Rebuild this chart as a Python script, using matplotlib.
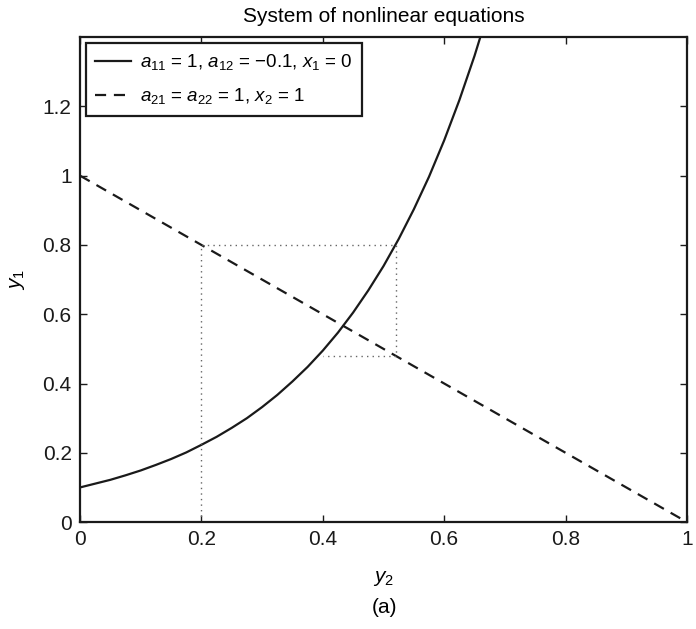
import matplotlib
matplotlib.use("Agg")
import matplotlib.pyplot as plt

plt.rcParams['font.family'] = ['Liberation Sans', 'DejaVu Sans']
plt.rcParams['mathtext.fontset'] = 'custom'
plt.rcParams['mathtext.rm'] = 'Liberation Sans'
plt.rcParams['mathtext.it'] = 'Liberation Sans:italic'

# first equation: y1 as a function of y2
curve_y2 = [0.0, 0.025, 0.05, 0.075, 0.10, 0.125, 0.15, 0.175, 0.20, 0.225,
            0.25, 0.275, 0.30, 0.325, 0.35, 0.375, 0.40, 0.425, 0.45, 0.475,
            0.50, 0.525, 0.55, 0.575, 0.60, 0.625, 0.65, 0.675, 0.70]
curve_y1 = [0.100, 0.111, 0.122, 0.135, 0.149, 0.165, 0.182, 0.201, 0.223,
            0.246, 0.272, 0.300, 0.332, 0.367, 0.406, 0.448, 0.495, 0.547,
            0.605, 0.669, 0.739, 0.817, 0.903, 0.997, 1.102, 1.218, 1.346,
            1.488, 1.644]

# second equation: straight line
line_y2 = [0.0, 1.0]
line_y1 = [1.0, 0.0]

# iteration path
iter_y2 = [0.2, 0.2, 0.52, 0.52, 0.40]
iter_y1 = [0.0, 0.8, 0.80, 0.48, 0.48]

fig = plt.figure(figsize=(6.96, 6.29), dpi=100)
ax = fig.add_axes([0.115, 0.170, 0.872, 0.771])

ax.plot(curve_y2, curve_y1, color='#1a1a1a', lw=1.6,
        label='$a_{11}$ = 1, $a_{12}$ = −0.1, $x_1$ = 0')
ax.plot(line_y2, line_y1, color='#1a1a1a', lw=1.6, ls=(0, (5, 3.5)),
        label='$a_{21}$ = $a_{22}$ = 1, $x_2$ = 1')
ax.plot(iter_y2, iter_y1, color='#666666', lw=1.0, ls=(0, (1, 3)))

ax.set_xlim(0, 1)
ax.set_ylim(0, 1.4)
ax.set_xticks([0, 0.2, 0.4, 0.6, 0.8, 1])
ax.set_xticklabels(['0', '0.2', '0.4', '0.6', '0.8', '1'])
ax.set_yticks([0, 0.2, 0.4, 0.6, 0.8, 1, 1.2])
ax.set_yticklabels(['0', '0.2', '0.4', '0.6', '0.8', '1', '1.2'])
ax.tick_params(direction='in', top=True, right=True, labelsize=15,
               length=5, width=1, colors='#1a1a1a', pad=6)
for s in ax.spines.values():
    s.set_linewidth(1.6)
    s.set_color('#1a1a1a')

ax.set_title('System of nonlinear equations', fontsize=15, pad=11)
ax.set_xlabel('$y_2$', fontsize=15, labelpad=14)
ax.set_ylabel('$y_1$', fontsize=15, labelpad=11)
fig.text(0.553, 0.026, '(a)', ha='center', fontsize=15)

leg = ax.legend(loc='upper left', fontsize=13.5, frameon=True, fancybox=False,
                handlelength=1.9, borderaxespad=0.3, borderpad=0.5,
                labelspacing=0.75, handletextpad=0.5)
leg.get_frame().set_edgecolor('#1a1a1a')
leg.get_frame().set_linewidth(1.6)
leg.get_frame().set_alpha(1)

fig.savefig('out.png', dpi=100)
